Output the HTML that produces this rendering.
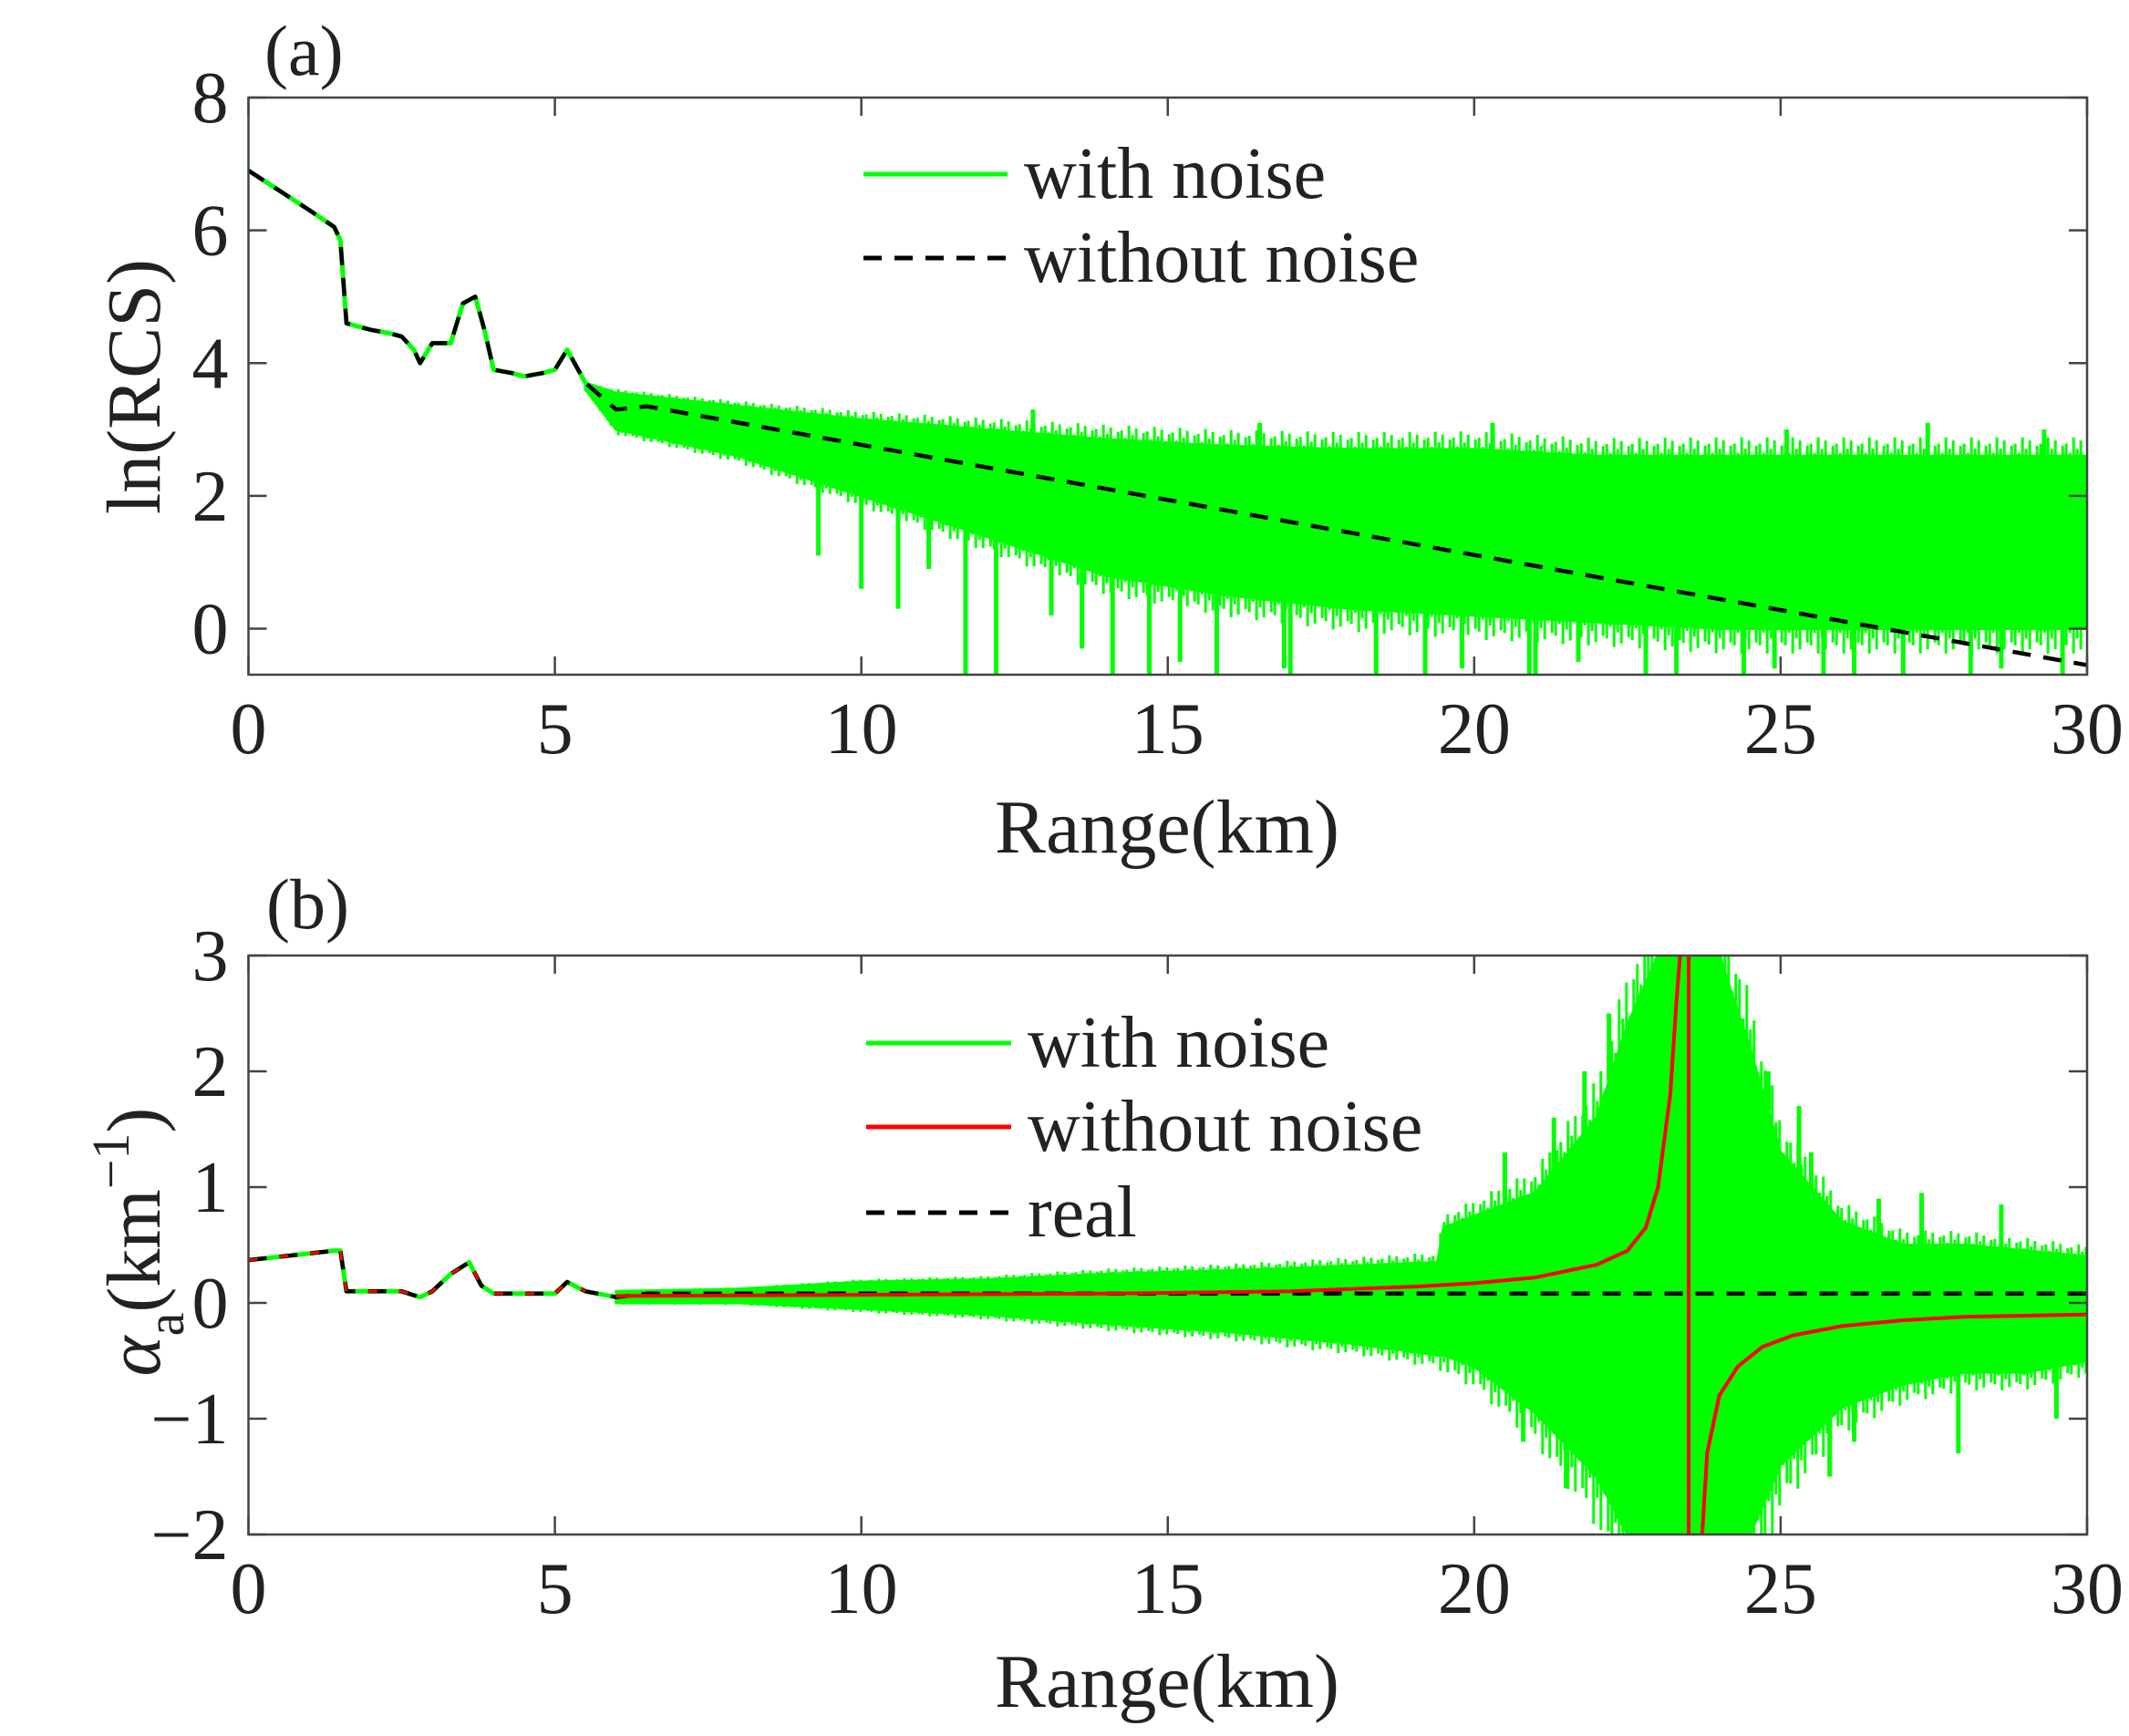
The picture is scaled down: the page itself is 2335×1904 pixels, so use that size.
<!DOCTYPE html>
<html><head><meta charset="utf-8"><style>
html,body{margin:0;padding:0;background:#fff;}
svg{display:block;font-family:"Liberation Serif",serif;}
</style></head><body>
<svg id="chart" width="2335" height="1904" viewBox="0 0 2335 1904"></svg>
<script>
// ---- Panel (a) data ----
const aCleanX = [0,0.5,1,1.4,1.5,1.6,2,2.3,2.5,2.7,2.8,3,3.3,3.5,3.7,3.85,4,4.3,4.5,4.8,5,5.2,5.5,6,6.5,30];
const aCleanY = [6.9,6.6,6.3,6.05,5.85,4.6,4.5,4.45,4.4,4.2,4.0,4.3,4.3,4.9,5.0,4.5,3.9,3.85,3.8,3.85,3.9,4.2,3.7,3.3,3.35,-0.55];
const aBandX = [5.5,6,8,10,12,14,16,18,20,22,24,26,28,30];
const aBandUp = [3.7,3.55,3.35,3.15,3.0,2.85,2.75,2.7,2.7,2.6,2.6,2.6,2.6,2.6];
const aBandLo = [3.6,3.0,2.6,2.0,1.4,0.8,0.5,0.3,0.2,0.1,0.0,0.0,0.0,0.0];
const aSpikeX = [9.3,10.0,10.6,11.1,11.7,12.2,13.1,14.1,14.7,15.8,17.0,19.2,21.0,22.8,24.4,26.2,28.1,12.8,16.5,20.3,25.1,27.4,29.3,13.6,15.2,16.9,18.4,19.8,20.9,21.7,23.3,24.9,25.7,27.0,28.6,29.6];
const aSpikeY = [1.1,0.6,0.3,0.9,-0.7,-0.7,0.2,-0.7,-0.7,-0.7,-0.7,-0.7,-0.7,-0.7,-0.7,-0.7,-0.7,3.3,3.1,3.1,3.0,3.1,3.0,-0.3,-0.5,-0.6,-0.7,-0.6,-0.7,-0.5,-0.7,-0.6,-0.7,-0.7,-0.6,-0.7];
const aXTicks = [0,5,10,15,20,25,30];
const aYTicks = [0,2,4,6,8];
// ---- Panel (b) data ----
const bRealX = [0,1.4,1.5,1.6,2.5,2.8,3,3.3,3.6,3.8,4,5,5.2,5.5,6,6.5,30];
const bRealY = [0.37,0.45,0.45,0.1,0.1,0.05,0.1,0.25,0.35,0.15,0.08,0.08,0.18,0.1,0.05,0.08,0.08];
const bRedX1 = [6,10,14,17,19,20,21,22,22.5,22.8,23.0,23.2,23.3,23.36];
const bRedY1 = [0.06,0.07,0.08,0.1,0.14,0.17,0.22,0.33,0.45,0.65,1.0,1.8,2.6,3.0];
const bRedX2 = [23.72,23.8,24,24.3,24.7,25.2,26,27,28,30];
const bRedY2 = [-2.0,-1.3,-0.8,-0.55,-0.38,-0.28,-0.2,-0.15,-0.12,-0.1];
const bRedVertX = [23.5];
const bBandX = [6,8,10,12,14,16,18,19.4,19.5,20,21,22,22.5,23,24,24.5,25,26,27,28,29,30];
const bBandUp = [0.1,0.12,0.18,0.2,0.25,0.28,0.32,0.35,0.65,0.75,0.95,1.6,2.4,3,3,2.2,1.3,0.7,0.5,0.5,0.45,0.4];
const bBandLo = [0.0,0.0,-0.05,-0.1,-0.18,-0.25,-0.35,-0.45,-0.45,-0.55,-0.95,-1.5,-2,-2,-2,-2,-1.4,-0.9,-0.7,-0.6,-0.6,-0.5];
const bSpikeX = [20.5,21.3,21.8,22.2,24.8,25.3,25.5,26.6,27.3,28.6,20.8,21.5,25.8,26.2,27.9,29.5];
const bSpikeY = [1.3,1.6,2.0,2.5,2.0,1.7,1.3,0.9,0.95,0.85,-1.2,-1.6,-1.5,-1.2,-1.3,-1.0];
const bXTicks = [0,5,10,15,20,25,30];
const bYTicks = [-2,-1,0,1,2,3];

const NS="http://www.w3.org/2000/svg";
const svg=document.getElementById('chart');
function el(tag,attrs,parent){const e=document.createElementNS(NS,tag);for(const k in attrs)e.setAttribute(k,attrs[k]);(parent||svg).appendChild(e);return e;}

const L=272.5,R=2289;
function mkX(){return v=>L+(v/30)*(R-L);}
const ax={x:mkX(),y:v=>689.5-(v/8)*582.5,top:107,bot:740};
const bx={x:mkX(),y:v=>1048+(3-v)/5*635,top:1048,bot:1683};

function clipDef(id,p){const d=el('clipPath',{id:id});el('rect',{x:L,y:p.top,width:R-L,height:p.bot-p.top},d);}
clipDef('ca',ax);clipDef('cb',bx);

function linePath(p,xs,ys){let d='';for(let i=0;i<xs.length;i++)d+=(i?'L':'M')+p.x(xs[i]).toFixed(1)+' '+p.y(ys[i]).toFixed(1);return d;}
function bandPath(p,xs,up,lo){let d='';for(let i=0;i<xs.length;i++)d+=(i?'L':'M')+p.x(xs[i]).toFixed(1)+' '+p.y(up[i]).toFixed(1);for(let i=xs.length-1;i>=0;i--)d+='L'+p.x(xs[i]).toFixed(1)+' '+p.y(lo[i]).toFixed(1);return d+'Z';}
function interp(xs,ys,x){for(let i=1;i<xs.length;i++){if(x<=xs[i]){const t=(x-xs[i-1])/(xs[i]-xs[i-1]);return ys[i-1]+t*(ys[i]-ys[i-1]);}}return ys[ys.length-1];}

function axes(p,xt,yt,name){
  const g=el('g',{});
  
  
  el('rect',{x:L,y:p.top,width:R-L,height:p.bot-p.top,fill:'none',stroke:'#444','stroke-width':2.5},g);
  xt.forEach(v=>{const x=p.x(v);
    el('line',{x1:x,x2:x,y1:p.bot,y2:p.bot-20,stroke:'#444','stroke-width':2.5},g);
    el('line',{x1:x,x2:x,y1:p.top,y2:p.top+20,stroke:'#444','stroke-width':2.5},g);
    const t=el('text',{x:x,y:p.bot+86,'text-anchor':'middle','font-size':80,fill:'#222'},g);t.textContent=v;
    
    
  });
  yt.forEach(v=>{const y=p.y(v);
    el('line',{x1:L,x2:L+20,y1:y,y2:y,stroke:'#444','stroke-width':2.5},g);
    el('line',{x1:R,x2:R-20,y1:y,y2:y,stroke:'#444','stroke-width':2.5},g);
    const t=el('text',{x:L-22,y:y+27,'text-anchor':'end','font-size':80,fill:'#222'},g);t.textContent=v<0?'\u2212'+(-v):v;
    
    
  });
}

function drawLine(p,clip,xs,ys,color,w,dash,name){
  const e=el('path',{d:linePath(p,xs,ys),fill:'none',stroke:color,'stroke-width':w,'stroke-dasharray':dash||'none','clip-path':'url(#'+clip+')','stroke-linejoin':'round'});
  
  
}
function drawBand(p,clip,xs,up,lo,name){
  const g=el('g',{'clip-path':'url(#'+clip+')'});
  
  
  el('path',{d:bandPath(p,xs,up,lo),fill:'#00ff00',stroke:'#00ff00','stroke-width':3},g);
  let d='';const x0=p.x(xs[0]),x1=p.x(xs[xs.length-1]);let k=0;
  for(let px=x0;px<=x1;px+=4,k++){const xv=(px-L)/(R-L)*30;
    const u=interp(xs,up,xv),l=interp(xs,lo,xv);const amp=(u-l);
    const j=[0.12,0.03,0.18,0.07,0.15,0.01,0.1][k%7]*amp;
    d+='M'+px.toFixed(1)+' '+p.y(u+j*0.6).toFixed(1)+'L'+px.toFixed(1)+' '+p.y(l-j*0.8).toFixed(1);}
  el('path',{d:d,stroke:'#00ff00','stroke-width':3,fill:'none'},g);
}
function drawSpikes(p,clip,xs,ys,bx_,up,lo,name){
  const g=el('g',{'clip-path':'url(#'+clip+')'});
  
  
  xs.forEach((x,i)=>{
    const base2=ys[i]<interp(bx_,lo,x)?interp(bx_,lo,x):interp(bx_,up,x);
    el('line',{x1:p.x(x),x2:p.x(x),y1:p.y(base2),y2:p.y(ys[i]),stroke:'#00ff00','stroke-width':5},g);});
}

// Panel (a)
drawBand(ax,'ca',aBandX,aBandUp,aBandLo,'noisy-band-a');
drawSpikes(ax,'ca',aSpikeX,aSpikeY,aBandX,aBandUp,aBandLo,'noise-spikes-a');
drawLine(ax,'ca',aCleanX.slice(0,24),aCleanY.slice(0,24),'#00ff00',5,null,'with-noise-line-a');
drawLine(ax,'ca',aCleanX,aCleanY,'#000',4.5,'20 14','without-noise-line-a');
axes(ax,aXTicks,aYTicks,'panel-a');

// Panel (b)
drawBand(bx,'cb',bBandX,bBandUp,bBandLo,'noisy-band-b');
drawSpikes(bx,'cb',bSpikeX,bSpikeY,bBandX,bBandUp,bBandLo,'noise-spikes-b');
drawLine(bx,'cb',bRealX.slice(0,15),bRealY.slice(0,15),'#00ff00',5,null,'with-noise-line-b');
drawLine(bx,'cb',bRealX,bRealY,'#000',4.5,'20 14','real-line');
drawLine(bx,'cb',bRealX.slice(0,14),bRealY.slice(0,14),'#ff0000',3,'10 24','without-noise-line-b-start');
drawLine(bx,'cb',bRedX1,bRedY1,'#ff0000',4,null,'without-noise-line-b-left');
drawLine(bx,'cb',bRedX2,bRedY2,'#ff0000',4,null,'without-noise-line-b-right');
drawLine(bx,'cb',[bRedVertX[0],bRedVertX[0]],[3,-2],'#ff0000',4,null,'without-noise-singularity');
axes(bx,bXTicks,bYTicks,'panel-b');

function txt(x,y,s,size,name,extra){const t=document.createElementNS(NS,'text');t.setAttribute('x',x);t.setAttribute('y',y);t.setAttribute('font-size',size);t.setAttribute('fill','#222');if(extra)for(const k in extra)t.setAttribute(k,extra[k]);t.textContent=s;svg.appendChild(t);


return t;}
txt(290,82,'(a)',78,'panel-a-label');
txt(292,1018,'(b)',78,'panel-b-label');
txt(1280,935,'Range(km)',84,'x-axis-title-a',{'text-anchor':'middle'});
txt(1280,1872,'Range(km)',84,'x-axis-title-b',{'text-anchor':'middle'});
txt(175,424,'ln(RCS)',84,'y-axis-title-a',{'text-anchor':'middle',transform:'rotate(-90 175 424)'});
const yt=document.createElementNS(NS,'text');yt.setAttribute('x',175);yt.setAttribute('y',1362);yt.setAttribute('font-size',84);yt.setAttribute('fill','#222');yt.setAttribute('text-anchor','middle');yt.setAttribute('transform','rotate(-90 175 1362)');
yt.innerHTML='<tspan font-style="italic">α</tspan><tspan font-size="58" dy="26">a</tspan><tspan dy="-26">(km</tspan><tspan font-size="58" dy="-34">−1</tspan><tspan dy="34">)</tspan>';
svg.appendChild(yt);


function legend(x1,x2,y,color,dash,label,name){
  const l=document.createElementNS(NS,'line');l.setAttribute('x1',x1);l.setAttribute('x2',x2);l.setAttribute('y1',y);l.setAttribute('y2',y);l.setAttribute('stroke',color);l.setAttribute('stroke-width',5);if(dash)l.setAttribute('stroke-dasharray',dash);svg.appendChild(l);
  
  
  txt(x2+18,y+26,label,80,name);
}
legend(947,1105,191,'#00ff00',null,'with noise','legend-a-with-noise');
legend(947,1105,283,'#000','20 14','without noise','legend-a-without-noise');
legend(950,1109,1144,'#00ff00',null,'with noise','legend-b-with-noise');
legend(950,1109,1236,'#ff0000',null,'without noise','legend-b-without-noise');
legend(950,1109,1330,'#000','20 14','real','legend-b-real');
</script>
</body></html>
